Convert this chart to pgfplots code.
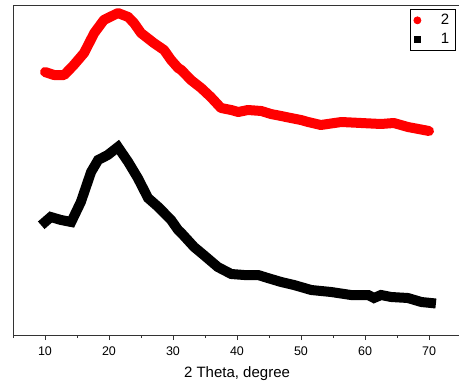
\documentclass[border=0pt]{standalone}
\usepackage{pgfplots}
\pgfplotsset{compat=1.18}
\usepackage{fontspec}
\setmainfont{Liberation Sans}
\begin{document}
\begin{tikzpicture}
\begin{axis}[
  scale only axis,
  width=448bp, height=330bp,
  xmin=5, xmax=75, ymin=0, ymax=330,
  axis line style={line width=0.9bp, draw=black!80},
  xtick={10,20,...,70},
  minor xtick={5,15,...,75},
  ytick=\empty,
  xtick pos=bottom,
  tick align=outside,
  major tick length=5bp, minor tick length=3bp,
  tick style={line width=0.7bp, black!80},
  /pgf/number format/assume math mode=true,
  ticklabel style={font=\fontsize{12.5bp}{14bp}\selectfont, yshift=-3bp},
  xlabel={2 Theta, degree},
  xlabel style={font=\fontsize{15bp}{17bp}\selectfont, yshift=-4bp},
  legend style={at={(0.988,0.988)}, anchor=north east, draw=black, line width=0.8bp,
    font=\fontsize{15bp}{17bp}\selectfont, row sep=3bp, inner xsep=4bp, inner ysep=3bp,
    /tikz/every odd column/.append style={column sep=18bp}},
  legend cell align=left,
  legend image code/.code={\draw[mark repeat=2,mark phase=2,#1] plot coordinates {(0bp,0bp) (6bp,0bp) (12bp,0bp)};},
]
\addplot[red, line width=10bp, line cap=round, line join=round, forget plot] coordinates {
(10.0,263) (11.4,260) (13.0,260) (14.5,270) (16.1,282) (17.7,302) (19.2,315)
(21.4,322) (23.0,318) (23.9,312) (25.0,302) (27.0,292) (28.6,285) (29.7,275)
(30.8,267) (31.3,265) (32.8,255) (34.4,247) (35.9,238) (37.5,227) (39.1,225)
(40.2,223) (41.7,225) (43.8,224) (45.3,221) (46.9,219) (48.4,217) (50.0,215)
(51.1,213) (53.1,210) (56.3,213) (59.4,212) (62.5,211) (64.5,212) (66.7,208)
(70.0,204)
};
\addplot[black, line width=10bp, line cap=rect, line join=miter, forget plot] coordinates {
(10.0,113) (10.9,118) (12.5,115) (14.1,113) (15.6,133) (17.2,163) (18.3,175)
(19.8,180) (21.4,188) (23.0,173) (24.5,157) (26.1,137) (27.7,128) (29.7,115)
(30.8,105) (31.3,102) (33.3,88) (34.8,80) (37.0,68) (39.1,61) (41.1,60)
(43.3,60) (44.8,57) (46.9,53) (48.9,50) (51.6,45) (54.7,43) (57.8,40)
(60.5,40) (61.4,37) (62.5,40) (64.1,38) (66.7,37) (68.8,33) (70.3,32)
};
\addlegendimage{only marks, mark=*, mark size=3.5bp, red}
\addlegendentry{2}
\addlegendimage{only marks, mark=square*, mark size=3bp, black}
\addlegendentry{1}
\end{axis}
\pgfresetboundingbox
\path ([xshift=-13bp,yshift=-54bp]current axis.south west) rectangle ([xshift=-2bp,yshift=5bp]current axis.north east);
\end{tikzpicture}
\end{document}
